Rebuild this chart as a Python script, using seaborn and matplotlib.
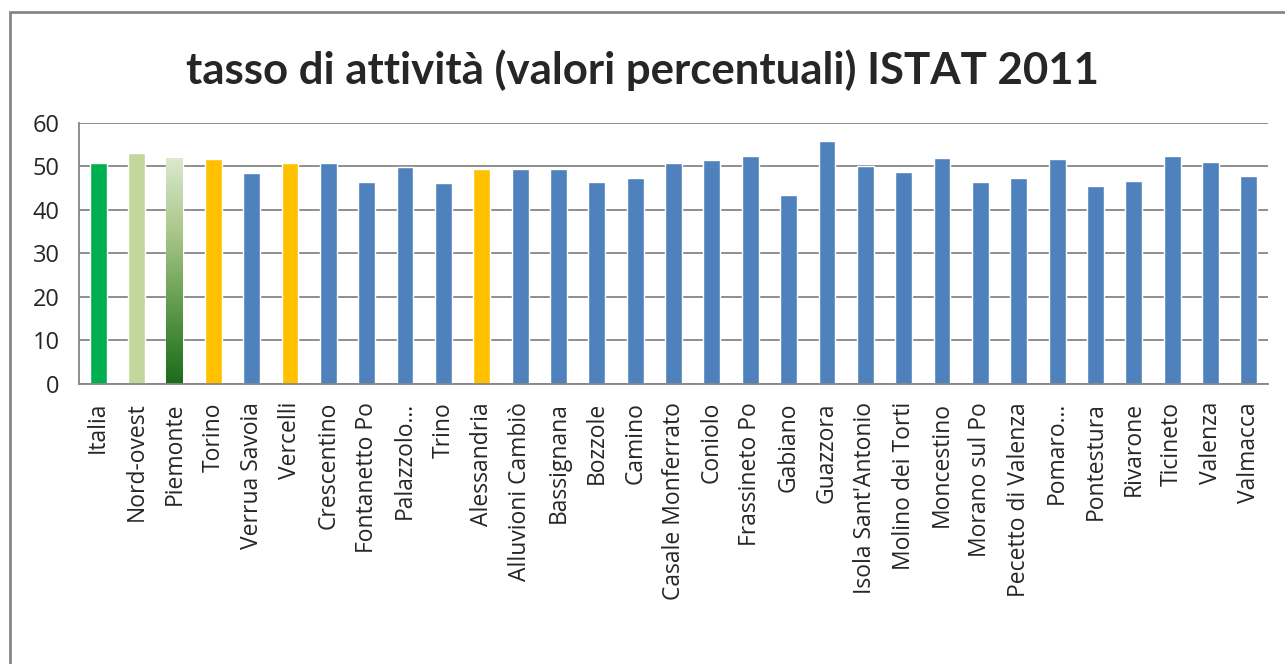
import numpy as np
import pandas as pd
import matplotlib
matplotlib.use("Agg")
import matplotlib.pyplot as plt
import seaborn as sns
from matplotlib.colors import LinearSegmentedColormap
from matplotlib.patches import Rectangle

# Data
comuni = ["Italia", "Nord-ovest", "Piemonte", "Torino", "Verrua Savoia", "Vercelli",
          "Crescentino", "Fontanetto Po", "Palazzolo…", "Trino", "Alessandria",
          "Alluvioni Cambiò", "Bassignana", "Bozzole", "Camino", "Casale Monferrato",
          "Coniolo", "Frassineto Po", "Gabiano", "Guazzora", "Isola Sant'Antonio",
          "Molino dei Torti", "Moncestino", "Morano sul Po", "Pecetto di Valenza",
          "Pomaro…", "Pontestura", "Rivarone", "Ticineto", "Valenza", "Valmacca"]
tasso = [50.7, 53.2, 52.0, 51.8, 48.6, 50.9,
         50.7, 46.5, 49.8, 46.3, 49.5,
         49.5, 49.5, 46.5, 47.4, 50.9,
         51.6, 52.5, 43.5, 55.9, 50.0,
         48.8, 52.0, 46.5, 47.4,
         51.8, 45.4, 46.7, 52.5, 51.1, 47.7]

green = "#00B050"
light_green = "#C3D69B"
orange = "#FFC000"
blue = "#4F81BD"
grid_col = "#868686"

colori = []
for c in comuni:
    if c == "Italia":
        colori.append(green)
    elif c == "Nord-ovest":
        colori.append(light_green)
    elif c == "Piemonte":
        colori.append("#5E9A4A")
    elif c in ("Torino", "Vercelli", "Alessandria"):
        colori.append(orange)
    else:
        colori.append(blue)

df = pd.DataFrame({"Comune": comuni, "Tasso": tasso})

sns.set_style("white")
plt.rcParams['font.family'] = ['Open Sans', 'DejaVu Sans']

fig = plt.figure(figsize=(12.85, 6.64), dpi=100)
ax = fig.add_axes([0.0615, 0.4217, 0.9253, 0.3931])

sns.barplot(data=df, x="Comune", y="Tasso", hue="Comune", palette=colori,
            legend=False, width=0.44, saturation=1, ax=ax)

# gradient fill for Piemonte (light on top, dark green at the base)
pie = ax.patches[comuni.index("Piemonte")]
x0, y0 = pie.get_x(), pie.get_y()
w, h = pie.get_width(), pie.get_height()
cmap = LinearSegmentedColormap.from_list("pie", ["#DCEACD", "#A9C68A", "#5E9A4A", "#1B6B1B"])
grad = np.linspace(0, 1, 256).reshape(-1, 1)
im = ax.imshow(grad, cmap=cmap, aspect="auto", extent=[x0, x0 + w, y0, y0 + h],
               origin="upper", zorder=pie.get_zorder() + 0.1)
im.set_clip_path(pie)
pie.set_facecolor("none")

ax.set_xlim(-0.5, len(comuni) - 0.5)
ax.set_ylim(0, 60)
ax.set_yticks(range(0, 61, 10))
ax.yaxis.grid(True, color=grid_col, linewidth=1.3)
ax.set_axisbelow(True)

ax.set_xlabel("")
ax.set_ylabel("")

for s in ["top", "right"]:
    ax.spines[s].set_visible(False)
for s in ["left", "bottom"]:
    ax.spines[s].set_color(grid_col)
    ax.spines[s].set_linewidth(1.3)

ax.set_xticks(range(len(comuni)))
ax.set_xticklabels(comuni, rotation=90, fontsize=16.5)
ax.tick_params(axis="x", length=0, pad=13)
ax.set_xticks(np.arange(-0.5, len(comuni), 1), minor=True)
ax.tick_params(axis="x", which="minor", direction="out", length=8, color=grid_col, width=1.3)
ax.tick_params(axis="y", direction="out", length=6, color=grid_col, width=1.3,
               labelsize=17, pad=8)

fig.suptitle("tasso di attività (valori percentuali) ISTAT 2011", fontsize=31.5,
             fontweight="bold", y=0.925, family=['Lato', 'DejaVu Sans'])

# outer chart frame
fig.add_artist(Rectangle((0.008, -0.05), 1.2, 1.032, transform=fig.transFigure,
                         fill=False, edgecolor=grid_col, linewidth=2))

fig.savefig("out.png", dpi=100, facecolor="white")
